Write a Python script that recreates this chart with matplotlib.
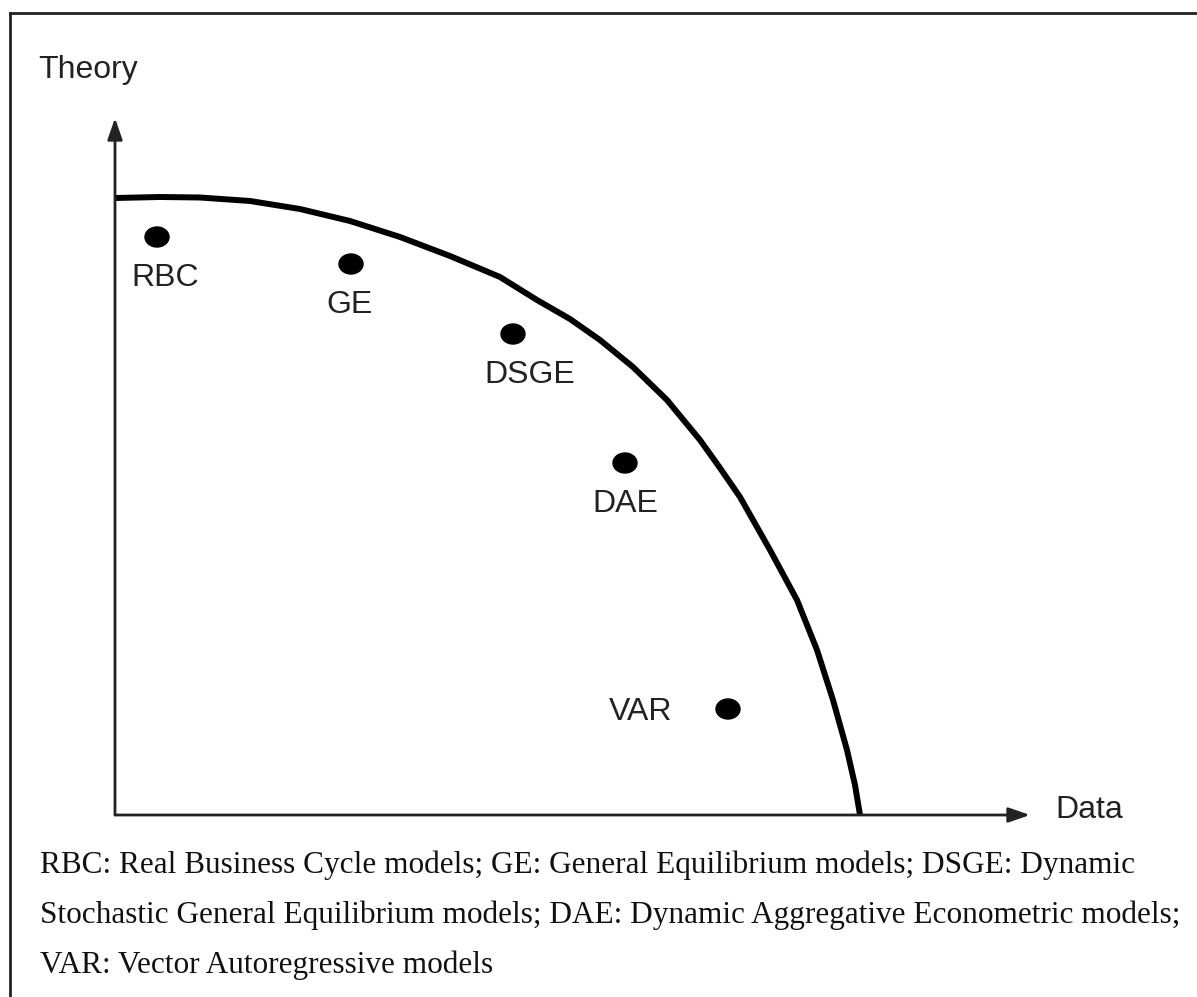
import matplotlib
matplotlib.use("Agg")
import matplotlib.pyplot as plt
from matplotlib.patches import Ellipse
from matplotlib.lines import Line2D

# frontier curve (data units: Data -> x, Theory -> y)
curve_x = [0.0, 0.45, 0.85, 1.35, 1.85, 2.35, 2.85, 3.35, 3.85, 4.22,
           4.55, 4.85, 5.18, 5.52, 5.85, 6.05, 6.25, 6.55, 6.82, 7.02,
           7.18, 7.32, 7.40, 7.45]
curve_y = [6.17, 6.18, 6.175, 6.14, 6.06, 5.94, 5.78, 5.59, 5.38, 5.15,
           4.96, 4.75, 4.48, 4.15, 3.75, 3.47, 3.18, 2.65, 2.15, 1.65,
           1.15, 0.65, 0.30, 0.0]

# model positions
models = ["RBC", "GE", "DSGE", "DAE", "VAR"]
model_x = [0.42, 2.36, 3.98, 5.10, 6.13]
model_y = [5.78, 5.51, 4.81, 3.52, 1.06]

caption = [
    "RBC: Real Business Cycle models; GE: General Equilibrium models; DSGE: Dynamic",
    "Stochastic General Equilibrium models; DAE: Dynamic Aggregative Econometric models;",
    "VAR: Vector Autoregressive models",
]

fig = plt.figure(figsize=(11.97, 9.97), dpi=100)
ax = fig.add_axes([0, 0, 1, 1])
ax.set_xlim(-1.15, 10.82)
ax.set_ylim(-1.82, 8.15)
ax.axis("off")

# axes with arrows
arrow = dict(arrowstyle="-|>,head_length=1.3,head_width=0.45", color="#222222",
             lw=2, shrinkA=0, shrinkB=0)
ax.annotate("", xy=(9.15, 0), xytext=(0, 0), arrowprops=arrow)
ax.annotate("", xy=(0, 6.97), xytext=(0, 0), arrowprops=arrow)

ax.plot(curve_x, curve_y, color="black", lw=4.3, solid_capstyle="butt",
        solid_joinstyle="round")

lab = dict(fontsize=23, color="#222222", family="Liberation Sans")
for name, x, y in zip(models, model_x, model_y):
    ax.add_patch(Ellipse((x, y), 0.24, 0.20, color="black"))
    if name == "VAR":
        ax.text(x - 0.87, y - 0.03, name, ha="center", va="center", **lab)
    else:
        dx = {"RBC": 0.08, "GE": -0.01, "DSGE": 0.17, "DAE": 0.0}[name]
        ax.text(x + dx, y - 0.41, name, ha="center", va="center", **lab)

ax.text(-0.77, 7.37, "Theory", ha="left", va="baseline", **lab)
ax.text(9.40, 0.05, "Data", ha="left", va="center", **lab)

for i, line in enumerate(caption):
    fig.text(40 / 1197, 1 - (873 + 50 * i) / 997, line, ha="left", va="baseline",
             fontsize=22.5, color="#111111", family="Liberation Serif")

# frame lines on top and left
fig.add_artist(Line2D([10 / 1197, 1], [1 - 13 / 997, 1 - 13 / 997], color="#222222", lw=2))
fig.add_artist(Line2D([10 / 1197, 10 / 1197], [0, 1 - 13 / 997], color="#222222", lw=2))

fig.savefig("out.png", dpi=100)
